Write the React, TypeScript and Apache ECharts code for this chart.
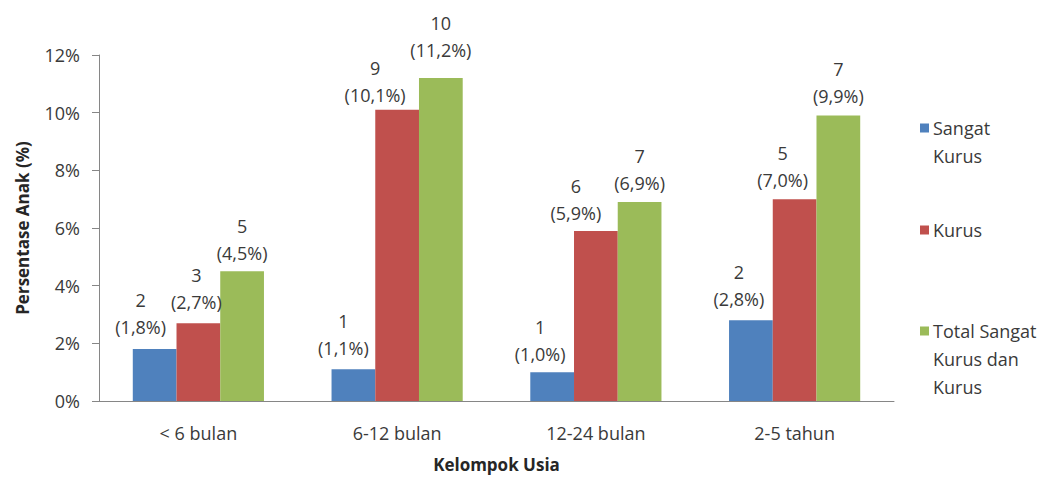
import React, { useEffect, useRef } from "react";
import * as echarts from "echarts";

// Age groups on the category axis
const categories = ["< 6 bulan", "6-12 bulan", "12-24 bulan", "2-5 tahun"];

// Series names (legend text) and colours
const seriesNames = ["Sangat\nKurus", "Kurus", "Total Sangat\nKurus dan\nKurus"];
const seriesColors = ["#4F81BD", "#C0504D", "#9BBB59"];

// Share of children (%) per age group
const sangatKurusPct = [1.8, 1.1, 1.0, 2.8];
const kurusPct = [2.7, 10.1, 5.9, 7.0];
const totalPct = [4.5, 11.2, 6.9, 9.9];

// Number of children per age group
const sangatKurusCount = [2, 1, 1, 2];
const kurusCount = [3, 9, 6, 5];
const totalCount = [5, 10, 7, 7];

// Y axis ticks (%)
const yMin = 0;
const yMax = 12;
const yStep = 2;

const pctSeries = [sangatKurusPct, kurusPct, totalPct];
const countSeries = [sangatKurusCount, kurusCount, totalCount];

// Small hand nudges [dx, dy] for the two-line value labels so they don't crowd each other
const labelNudges: number[][][] = [
  [[-14, -3], [-10, -2], [-12, 1], [-12, -2]],
  [[-2, -2], [-22, 5], [-20, 2], [-12, 0]],
  [[0, 1], [0, -9], [0, 0], [0, 0]],
];

const FONT = "'Open Sans', 'Noto Sans', sans-serif";
const TEXT = "#3a3a3a";

export default function App() {
  const ref = useRef<HTMLDivElement>(null);

  useEffect(() => {
    document.body.style.margin = "0";
    if (!ref.current) return;
    const chart = echarts.init(ref.current, null, { renderer: "svg" });

    const fmtPct = (v: number) => v.toFixed(1).replace(".", ",");

    const series = pctSeries.map((vals, s) => ({
      type: "bar" as const,
      name: seriesNames[s],
      barWidth: "22%",
      barGap: "0%",
      itemStyle: { color: seriesColors[s] },
      label: {
        show: true,
        position: "top" as const,
        distance: 6,
        color: TEXT,
        fontFamily: FONT,
        fontSize: 18,
        lineHeight: 27,
        align: "center" as const,
        formatter: (p: any) =>
          `${countSeries[s][p.dataIndex]}\n(${fmtPct(p.value)}%)`,
      },
      data: vals.map((v, i) => ({
        value: v,
        label: { offset: labelNudges[s][i] },
      })),
    }));

    // Legend drawn as squares with multi-line text, icon aligned to the first line
    const legendTops = [128, 230, 331];
    const legendGraphics: any[] = [];
    seriesNames.forEach((name, s) => {
      const cy = legendTops[s];
      legendGraphics.push({
        type: "rect",
        shape: { x: 920, y: cy - 4.5, width: 9, height: 9 },
        style: { fill: seriesColors[s] },
      });
      name.split("\n").forEach((line, k) => {
        legendGraphics.push({
          type: "text",
          x: 933,
          y: cy + k * 28,
          style: {
            text: line,
            fill: TEXT,
            font: `18px ${FONT}`,
            textAlign: "left",
            textVerticalAlign: "middle",
          },
        });
      });
    });

    chart.setOption({
      animation: false,
      backgroundColor: "#ffffff",
      textStyle: { fontFamily: FONT },
      grid: { left: 99, right: 159, top: 55, bottom: 76, containLabel: false },
      xAxis: {
        type: "category",
        data: categories,
        name: "Kelompok Usia",
        nameLocation: "middle",
        nameGap: 55,
        nameTextStyle: {
          fontFamily: FONT,
          fontWeight: "bold",
          fontSize: 17,
          color: "#262626",
        },
        axisLine: { show: true, lineStyle: { color: "#868686", width: 1 } },
        axisTick: { show: false },
        axisLabel: {
          color: TEXT,
          fontFamily: FONT,
          fontSize: 18,
          margin: 22,
          lineHeight: 20,
        },
        splitLine: { show: false },
      },
      yAxis: {
        type: "value",
        min: yMin,
        max: yMax,
        interval: yStep,
        name: "Persentase Anak (%)",
        nameLocation: "middle",
        nameGap: 68,
        nameTextStyle: {
          fontFamily: FONT,
          fontWeight: "bold",
          fontSize: 17,
          color: "#262626",
        },
        axisLine: { show: true, lineStyle: { color: "#868686", width: 1 } },
        axisTick: {
          show: true,
          inside: false,
          length: 7,
          lineStyle: { color: "#868686" },
        },
        axisLabel: {
          color: TEXT,
          fontFamily: FONT,
          fontSize: 18,
          margin: 19,
          formatter: "{value}%",
        },
        splitLine: { show: false },
      },
      series,
      graphic: legendGraphics,
    });

    return () => chart.dispose();
  }, []);

  return <div ref={ref} style={{ width: 1053, height: 478 }} />;
}
